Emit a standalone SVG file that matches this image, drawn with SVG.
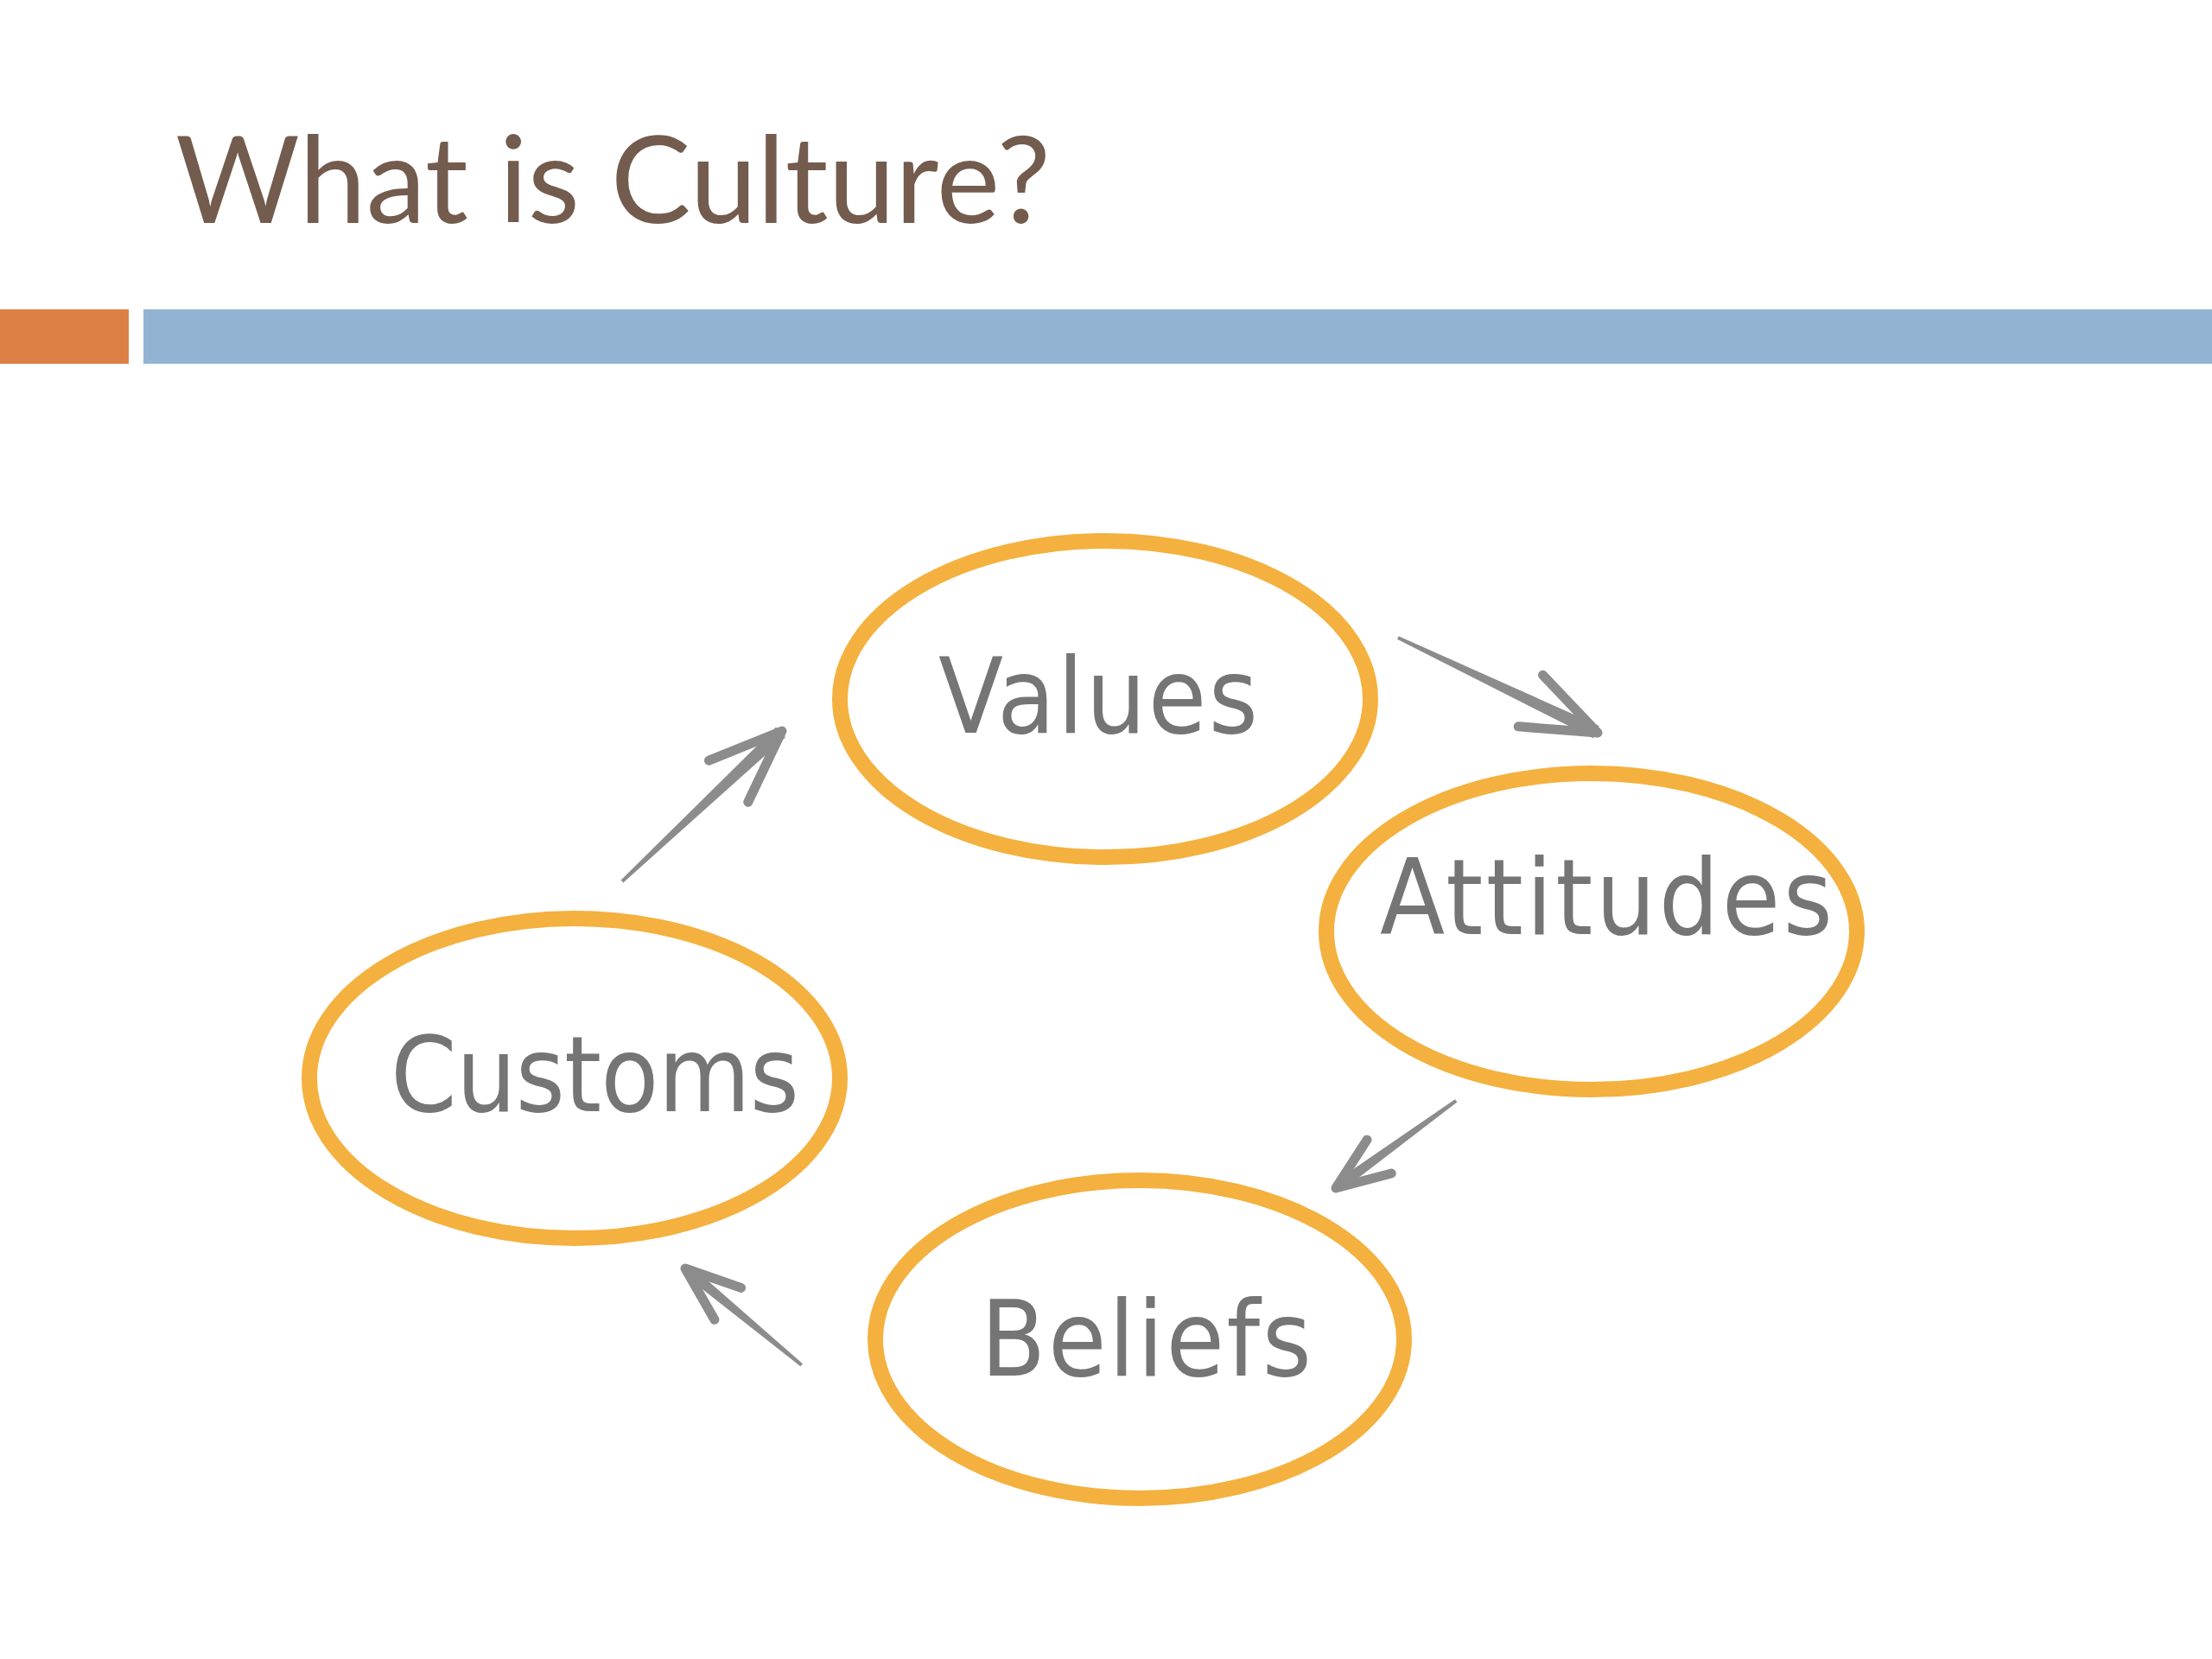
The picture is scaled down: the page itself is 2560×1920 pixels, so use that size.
<svg xmlns="http://www.w3.org/2000/svg" width="2560" height="1920" viewBox="0 0 2560 1920">
<style>
.title{font-family:Lato,"Liberation Sans",sans-serif;font-size:139px;fill:#735B4E}
.node ellipse{fill:none;stroke:#F4B13F;stroke-width:18}
.node text{font-family:"DejaVu Sans Condensed","Liberation Sans Narrow","DejaVu Sans",sans-serif;font-stretch:condensed;font-size:122px;fill:#757575}
.shaft{fill:#8C8C8C}
.head{fill:none;stroke:#8C8C8C;stroke-width:11;stroke-linecap:round;stroke-linejoin:round}
</style>
<rect width="2560" height="1920" fill="#FFFFFF"/>
<g id="header">
<text class="title" x="203" y="258" textLength="1013" lengthAdjust="spacing">What is Culture?</text>
<rect x="0" y="358" width="149" height="63" fill="#DC8045"/>
<rect x="166" y="358" width="2394" height="63" fill="#93B3D3"/>
</g>
<g id="node-values" class="node">
<ellipse cx="1279" cy="809" rx="307" ry="183"/>
<text x="1086" y="848" textLength="370" lengthAdjust="spacing">Values</text>
</g>
<g id="node-attitudes" class="node">
<ellipse cx="1842" cy="1078" rx="307" ry="183"/>
<text x="1597" y="1081" textLength="524" lengthAdjust="spacing">Attitudes</text>
</g>
<g id="node-customs" class="node">
<ellipse cx="665" cy="1248" rx="307" ry="185"/>
<text x="452" y="1286" textLength="473" lengthAdjust="spacing">Customs</text>
</g>
<g id="node-beliefs" class="node">
<ellipse cx="1319" cy="1550" rx="306" ry="184"/>
<text x="1135" y="1592" textLength="383" lengthAdjust="spacing">Beliefs</text>
</g>
<g id="connectors">
<g transform="translate(1849 848) rotate(25.46)">
<polygon class="shaft" points="-256,-2 -256,2 -2,8 -2,-8"/>
<polyline class="head" points="-86,-33 0,0 -86,33"/>
</g>
<g transform="translate(1546 1375) rotate(144)">
<polygon class="shaft" points="-172,-2 -172,2 -2,6.5 -2,-6.5"/>
<polyline class="head" points="-62,-24 0,0 -62,24"/>
</g>
<g transform="translate(793 1468) rotate(-140.3)">
<polygon class="shaft" points="-175,-2 -175,2 -2,6.5 -2,-6.5"/>
<polyline class="head" points="-64,-24 0,0 -64,24"/>
</g>
<g transform="translate(905 846) rotate(-43.25)">
<polygon class="shaft" points="-254,-2 -254,2 -2,8 -2,-8"/>
<polyline class="head" points="-85,-33 0,0 -85,33"/>
</g>
</g>
</svg>
